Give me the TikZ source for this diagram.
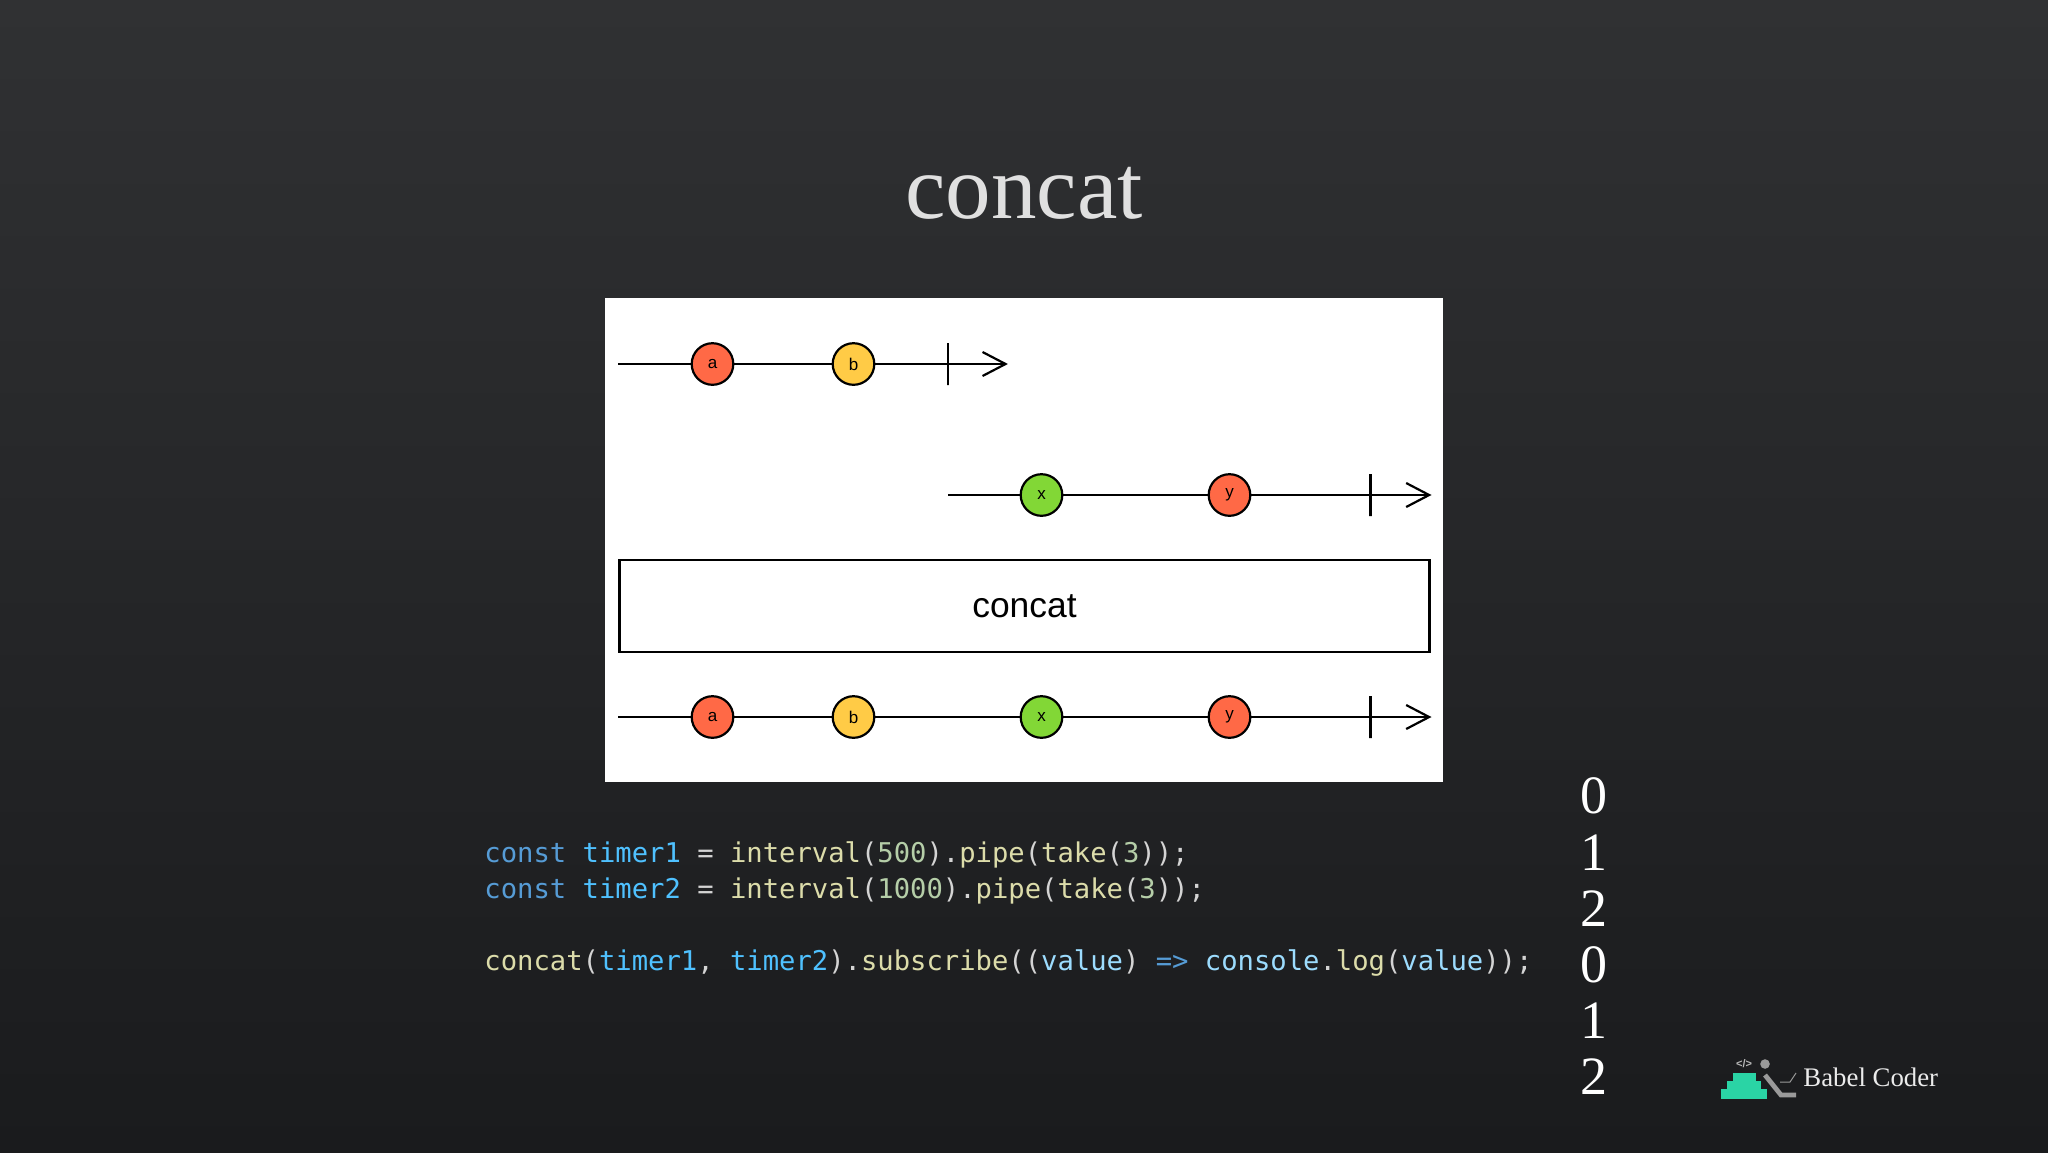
\documentclass[tikz,border=0pt]{standalone}
\usepackage{fontspec}
\setmainfont{Liberation Serif}
\setsansfont{Liberation Sans}
\setmonofont{DejaVu Sans Mono}
\usetikzlibrary{arrows.meta, positioning}

\definecolor{bgtop}{HTML}{303133}
\definecolor{bgbottom}{HTML}{1A1B1D}
\definecolor{marblered}{HTML}{FF6946}
\definecolor{marbleyellow}{HTML}{FFCB46}
\definecolor{marblegreen}{HTML}{82D736}
\definecolor{kwblue}{HTML}{569CD6}
\definecolor{varblue}{HTML}{4FC1FF}
\definecolor{paramblue}{HTML}{9CDCFE}
\definecolor{fnyellow}{HTML}{DCDCAA}
\definecolor{numgreen}{HTML}{B5CEA8}
\definecolor{punct}{HTML}{D4D4D4}
\definecolor{logogreen}{HTML}{2AD4A5}
\definecolor{logogray}{HTML}{9A9A9A}

\newcommand{\kw}[1]{\textcolor{kwblue}{#1}}
\newcommand{\var}[1]{\textcolor{varblue}{#1}}
\newcommand{\param}[1]{\textcolor{paramblue}{#1}}
\newcommand{\fn}[1]{\textcolor{fnyellow}{#1}}
\newcommand{\num}[1]{\textcolor{numgreen}{#1}}

\begin{document}
\begin{tikzpicture}[
		x=0.5pt, y=-0.5pt,
		marble/.style={circle, draw=black, line width=1.1pt, inner sep=0pt, minimum size=20.8pt, text=black, font=\sffamily\fontsize{8.5}{10}\selectfont},
		endtick/.style={rectangle, draw=black, line width=1.1pt, inner sep=0pt, minimum width=0pt, minimum height=21pt},
		edge/.style={black, line width=1.1pt},
		edgetip/.style={edge, -{Straight Barb[length=11.5pt, width=12pt]}},
		opbox/.style={rectangle, draw=black, line width=1.1pt, minimum width=405pt, minimum height=46pt, text=black, font=\sffamily\fontsize{17.7}{20}\selectfont},
		codeline/.style={anchor=base west, inner sep=0pt, text=punct, font=\ttfamily\fontsize{13.6}{16}\selectfont},
		digit/.style={inner sep=0pt, text=white, font=\fontsize{27}{32}\selectfont},
		on grid
		]
		
		% Pozadina
		\useasboundingbox (0,0) rectangle (2048,1152);
		\shade[top color=bgtop, bottom color=bgbottom] (0,0) rectangle (2048,1152);
		\fill[white] (605,298) rectangle (1443,782);
		
		\node[font=\fontsize{45.5}{50}\selectfont, text=white!88!black] (title) at (1024,193) {concat};
		
		% Prvi red
		\coordinate (start1) at (618,364);
		\node[marble, fill=marblered] (a1) at (712.5,364) {a};
		\node[marble, fill=marbleyellow, right=70.5pt of a1] (b1) {b};
		\node[endtick, right=47.2pt of b1] (tick1) {};
		\coordinate[right=30pt of tick1] (end1);
		\draw[edge] (start1) -- (a1);
		\draw[edge] (a1) -- (b1);
		\draw[edge] (b1) -- (tick1);
		\draw[edgetip] (tick1) -- (end1);
		
		% Drugi red
		\coordinate (start2) at (948,495);
		\node[marble, fill=marblegreen] (x2) at (1041.5,495) {x};
		\node[marble, fill=marblered, right=94pt of x2] (y2) {y};
		\node[endtick, right=70.5pt of y2] (tick2) {};
		\coordinate[right=30.5pt of tick2] (end2);
		\draw[edge] (start2) -- (x2);
		\draw[edge] (x2) -- (y2);
		\draw[edge] (y2) -- (tick2);
		\draw[edgetip] (tick2) -- (end2);
		
		\node[opbox] (op) at (1024.5,606) {\raisebox{-0.5pt}{concat}};
		
		% Rezultat
		\coordinate (start3) at (618,717);
		\node[marble, fill=marblered, below=176.5pt of a1] (a3) {a};
		\node[marble, fill=marbleyellow, right=70.5pt of a3] (b3) {b};
		\node[marble, fill=marblegreen, right=94pt of b3] (x3) {x};
		\node[marble, fill=marblered, right=94pt of x3] (y3) {y};
		\node[endtick, right=70.5pt of y3] (tick3) {};
		\coordinate[right=30.5pt of tick3] (end3);
		\draw[edge] (start3) -- (a3);
		\draw[edge] (a3) -- (b3);
		\draw[edge] (b3) -- (x3);
		\draw[edge] (x3) -- (y3);
		\draw[edge] (y3) -- (tick3);
		\draw[edgetip] (tick3) -- (end3);
		
		% Kod
		\node[codeline] (code1) at (484,862) {\kw{const} \var{timer1} = \fn{interval}(\num{500}).\fn{pipe}(\fn{take}(\num{3}));};
		\node[codeline] (code2) at (484,898) {\kw{const} \var{timer2} = \fn{interval}(\num{1000}).\fn{pipe}(\fn{take}(\num{3}));};
		\node[codeline] (code3) at (484,970) {\fn{concat}(\var{timer1}, \var{timer2}).\fn{subscribe}((\param{value}) \kw{=>} \param{console}.\fn{log}(\param{value}));};
		
		% Izlaz
		\node[digit] (d0) at (1594,796) {0};
		\node[digit, below=28.1pt of d0] (d1) {1};
		\node[digit, below=28.1pt of d1] (d2) {2};
		\node[digit, below=28.1pt of d2] (d3) {0};
		\node[digit, below=28.1pt of d3] (d4) {1};
		\node[digit, below=28.1pt of d4] (d5) {2};
		
		% Logo
		\fill[logogreen] (1721,1089) rectangle (1767,1099);
		\fill[logogreen] (1727,1081) rectangle (1761,1088.5);
		\fill[logogreen] (1733,1073) rectangle (1756,1080.5);
		\fill[logogray] (1765,1064) circle (4.8);
		\draw[logogray, line width=2.4pt] (1765,1075) -- (1781,1095) -- (1796,1095);
		\draw[logogray, line width=0.5pt] (1780,1082) -- (1790,1082) -- (1796,1073);
		\node[text=logogray!70!white, font=\sffamily\bfseries\fontsize{5.5}{6}\selectfont] (tag) at (1744,1064) {</>};
		\node[anchor=base west, inner sep=0pt, text=white!92!black, font=\fontsize{13.4}{16}\selectfont] (brand) at (1803,1086) {Babel Coder};
		
	\end{tikzpicture}
\end{document}
